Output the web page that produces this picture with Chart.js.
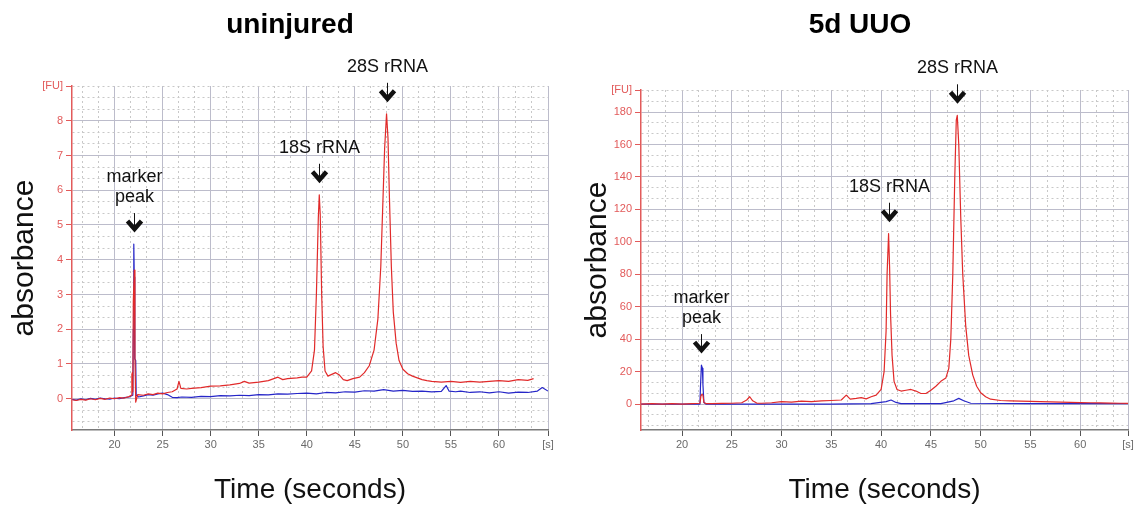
<!DOCTYPE html>
<html>
<head>
<meta charset="utf-8">
<title>RNA electropherograms</title>
<script src="https://cdn.jsdelivr.net/npm/chart.js@4.4.0/dist/chart.umd.min.js"></script>
<style>
  body { margin: 0; background: #fff; }
  .panel { position: absolute; top: 0; height: 508px; }
  #panel-1 { left: 0; width: 570px; }
  #panel-2 { left: 570px; width: 569px; }
</style>
</head>
<body>
<div class="panel" id="panel-1"><canvas id="chart-1" width="570" height="508"></canvas></div>
<div class="panel" id="panel-2"><canvas id="chart-2" width="569" height="508"></canvas></div>
<script>
// ---- uninjured: sample trace (red) and ladder/marker trace (blue), time [s] vs FU
const uninjuredRedTime = [15.6, 16.0, 16.5, 17.0, 17.5, 18.0, 18.5, 19.0, 19.5, 20.0, 20.5, 21.0, 21.5, 21.75, 21.8, 21.85, 21.9,
  21.95, 22.05, 22.12, 22.2, 22.4, 23.0, 23.5, 24.0, 24.5, 25.0, 25.5, 26.0, 26.5, 26.7, 26.9, 27.5, 28.0, 29.0, 30.0, 31.0,
  32.0, 33.0, 33.5, 34.0, 35.0, 36.0, 37.0, 37.5, 38.0, 39.0, 39.5, 40.0, 40.5, 40.8, 41.0, 41.2, 41.3, 41.4, 41.55, 41.7,
  41.9, 42.2, 42.6, 43.0, 43.4, 43.8, 44.2, 44.8, 45.5, 46.0, 46.5, 47.0, 47.4, 47.7, 47.9, 48.1, 48.3, 48.45, 48.6, 48.8,
  49.0, 49.3, 49.6, 50.0, 50.5, 51.0, 51.5, 52.0, 52.5, 53.0, 54.0, 55.0, 56.0, 57.0, 58.0, 59.0, 60.0, 61.0, 62.0, 63.0, 63.6];
const uninjuredRedFU = [-0.03, -0.05, -0.02, -0.04, 0.0, -0.03, 0.01, -0.02, 0.02, 0.0, 0.03, 0.02, 0.06, 0.10, 0.70, 0.75, 0.20,
  2.8, 3.7, 1.2, -0.1, 0.12, 0.10, 0.14, 0.12, 0.16, 0.14, 0.18, 0.20, 0.28, 0.50, 0.30, 0.28, 0.30, 0.32, 0.36, 0.37,
  0.40, 0.44, 0.50, 0.45, 0.48, 0.52, 0.62, 0.55, 0.58, 0.60, 0.62, 0.62, 0.80, 1.4, 3.0, 5.2, 5.87, 5.3, 3.0, 1.5,
  0.80, 0.65, 0.70, 0.75, 0.68, 0.55, 0.52, 0.58, 0.62, 0.75, 0.95, 1.4, 2.3, 3.8, 5.5, 7.2, 8.2, 7.5, 5.8, 3.8,
  2.5, 1.6, 1.1, 0.85, 0.72, 0.65, 0.60, 0.55, 0.52, 0.50, 0.48, 0.50, 0.47, 0.50, 0.48, 0.50, 0.52, 0.50, 0.55, 0.53, 0.58];
const uninjuredBlueTime = [15.6, 16.0, 16.5, 17.0, 17.5, 18.0, 18.5, 19.0, 19.5, 20.0, 20.5, 21.0, 21.5, 21.9, 21.95, 22.0, 22.05,
  22.1, 22.2, 22.25, 22.5, 23.0, 23.5, 24.0, 24.5, 25.0, 25.5, 26.0, 26.5, 27.0, 28.0, 29.0, 30.0, 31.0, 32.0, 33.0, 34.0,
  35.0, 36.0, 37.0, 38.0, 39.0, 40.0, 41.0, 42.0, 43.0, 44.0, 45.0, 46.0, 47.0, 48.0, 49.0, 50.0, 51.0, 52.0, 53.0, 54.0,
  54.5, 54.8, 55.5, 56.0, 57.0, 58.0, 59.0, 60.0, 61.0, 62.0, 63.0, 64.0, 64.5, 65.1];
const uninjuredBlueFU = [-0.02, -0.04, 0.0, -0.03, 0.01, -0.02, 0.02, 0.0, -0.01, 0.02, 0.0, 0.03, 0.05, 0.10, 2.0, 4.45, 3.5,
  1.15, 1.10, 0.10, 0.05, 0.08, 0.12, 0.10, 0.14, 0.16, 0.12, 0.04, 0.03, 0.05, 0.04, 0.07, 0.06, 0.09, 0.08, 0.10, 0.09,
  0.12, 0.11, 0.14, 0.13, 0.15, 0.16, 0.14, 0.18, 0.17, 0.20, 0.19, 0.23, 0.22, 0.26, 0.22, 0.24, 0.21, 0.22, 0.20, 0.21,
  0.38, 0.22, 0.20, 0.22, 0.18, 0.20, 0.17, 0.20, 0.16, 0.19, 0.18, 0.22, 0.32, 0.22];

// ---- 5d UUO
const uuoRedTime = [15.9, 17.0, 18.0, 19.0, 20.0, 21.0, 21.8, 21.9, 22.0, 22.1, 22.2, 22.4, 23.0, 24.0, 25.0, 26.0, 26.5, 26.8,
  27.1, 27.5, 28.0, 29.0, 30.0, 31.0, 32.0, 33.0, 34.0, 35.0, 36.0, 36.5, 36.9, 37.5, 38.0, 38.5, 39.0, 39.5, 40.0, 40.3,
  40.5, 40.6, 40.75, 40.85, 40.95, 41.1, 41.3, 41.6, 42.0, 42.5, 43.0, 43.5, 44.0, 44.5, 45.0, 45.5, 46.0, 46.5, 46.8,
  47.0, 47.2, 47.4, 47.55, 47.65, 47.8, 48.0, 48.2, 48.5, 48.8, 49.2, 49.6, 50.0, 50.5, 51.0, 52.0, 53.0, 54.0, 55.0,
  56.0, 57.0, 58.0, 59.0, 60.0, 61.0, 62.0, 63.0, 64.0, 64.8];
const uuoRedFU = [0, 0.3, 0, 0.2, 0, 0.3, 0.5, 5, 6, 5.5, 1, 0.3, 0.2, 0.4, 0.5, 0.8, 2.5, 4.5,
  2, 0.6, 0.5, 0.8, 1.5, 1.2, 1.8, 1.5, 2.0, 2.2, 2.5, 5.5, 3, 3.5, 4.0, 3.2, 4.5, 5.5, 9, 20,
  45, 80, 105, 85, 55, 30, 14, 9, 8, 8.5, 9, 8, 6.5, 6.5, 8.5, 11, 14, 16, 22,
  40, 80, 140, 175, 178, 160, 115, 80, 48, 30, 18, 11, 7, 4.5, 3, 2.2, 2, 1.8, 1.6,
  1.5, 1.3, 1.2, 1.0, 0.9, 0.8, 0.7, 0.6, 0.5, 0.4];
const uuoBlueTime = [15.9, 18.0, 20.0, 21.8, 21.85, 21.95, 22.05, 22.1, 22.2, 22.4, 25.0, 30.0, 35.0, 39.0, 40.5, 41.0, 41.5,
  42.0, 46.0, 47.3, 47.8, 48.3, 49.0, 55.0, 60.0, 64.8];
const uuoBlueFU = [0, 0, 0, 0, 10, 24, 22, 12, 1, 0, 0, 0, 0, 0.3, 1.5, 2.5, 1.0,
  0.3, 0.3, 2, 3.5, 2, 0.5, 0.3, 0.2, 0.2];

// ---- axes
const timeTicks = [20, 25, 30, 35, 40, 45, 50, 55, 60];
const uninjuredTicks = [0, 1, 2, 3, 4, 5, 6, 7, 8];
const uuoTicks = [0, 20, 40, 60, 80, 100, 120, 140, 160, 180];

// ---- peak labels
const uninjuredPeakLabels = [['marker', 'peak'], ['18S rRNA'], ['28S rRNA']];
const uninjuredPeakTime = [22.0, 41.3, 48.3];
const uninjuredPeakFU = [4.45, 5.87, 8.2];
const uuoPeakLabels = [['marker', 'peak'], ['18S rRNA'], ['28S rRNA']];
const uuoPeakTime = [21.95, 40.75, 47.65];
const uuoPeakFU = [24, 105, 178];

const fontFamily = '"Liberation Sans", Arial, sans-serif';
const minorDivisions = 3;
const red = '#e12a2a';
const blue = '#2626c8';
const axisRed = '#e25a5a';
const majorGrid = '#bcbccb';
const minorGrid = '#c8c8c8';

Chart.defaults.font.family = fontFamily;

function toPoints(times, values) {
    return times.map((t, i) => ({ x: t, y: values[i] }));
}

// grid ticks: labelled majors, dotted minors in between, unit label at the end
function gridTicks(major, min, max, unit) {
    const step = (major[1] - major[0]) / minorDivisions;
    const ticks = [];
    const kStart = Math.ceil((min - major[0]) / step - 1e-6);
    const kEnd = Math.floor((max - major[0]) / step + 1e-6);
    for (let k = kStart; k <= kEnd; k++) {
        const v = major[0] + k * step;
        if (max - v < step * 0.4) continue;
        const isMajor = ((k % minorDivisions) + minorDivisions) % minorDivisions === 0 && v <= major[major.length - 1];
        ticks.push({ value: v, kind: isMajor ? 'major' : 'minor', text: isMajor ? String(Math.round(v)) : '' });
    }
    ticks.push({ value: max, kind: 'end', text: unit });
    return ticks;
}

const peakArrows = {
    id: 'peakArrows',
    afterDatasetsDraw(chart, args, opts) {
        const { ctx, scales: { x, y } } = chart;
        ctx.save();
        ctx.fillStyle = '#111';
        ctx.strokeStyle = '#111';
        ctx.font = '18px ' + fontFamily;
        ctx.textAlign = 'center';
        ctx.textBaseline = 'middle';
        opts.labels.forEach((lines, i) => {
            const px = Math.round(x.getPixelForValue(opts.time[i])) + 0.5;
            const tip = y.getPixelForValue(opts.fu[i]) - 13;
            const top = tip - 18;
            ctx.lineWidth = 1;
            ctx.beginPath();
            ctx.moveTo(px, top);
            ctx.lineTo(px, tip);
            ctx.stroke();
            ctx.lineWidth = 4.5;
            ctx.lineJoin = 'miter';
            ctx.beginPath();
            ctx.moveTo(px - 7, tip - 10);
            ctx.lineTo(px, tip - 2);
            ctx.lineTo(px + 7, tip - 10);
            ctx.stroke();
            lines.slice().reverse().forEach((s, j) => {
                ctx.fillText(s, px, top - 16 - j * 20);
            });
        });
        ctx.restore();
    }
};

function createChart(canvas, cfg) {
    const xTicks = gridTicks(timeTicks, cfg.xMin, cfg.xMax, '[s]');
    const yTicks = gridTicks(cfg.yTicks, cfg.yMin, cfg.yMax, '[FU]');
    return new Chart(canvas, {
        type: 'line',
        data: {
            datasets: [{
                data: toPoints(cfg.redTime, cfg.redFU),
                borderColor: red,
                borderWidth: 1.2
            }, {
                data: toPoints(cfg.blueTime, cfg.blueFU),
                borderColor: blue,
                borderWidth: 1.2
            }]
        },
        options: {
            responsive: false,
            animation: false,
            events: [],
            layout: { padding: { left: cfg.padLeft, right: cfg.padRight, top: 0, bottom: 0 } },
            elements: {
                point: { radius: 0 },
                line: { tension: 0, borderJoinStyle: 'round', fill: false }
            },
            plugins: {
                legend: { display: false },
                tooltip: { enabled: false },
                title: {
                    display: true,
                    text: cfg.title,
                    color: '#000',
                    font: { size: 28, weight: 'bold' },
                    padding: { top: 8, bottom: cfg.top - 8 - 28 * 1.2 }
                },
                peakArrows: {
                    labels: cfg.peakLabels,
                    time: cfg.peakTime,
                    fu: cfg.peakFU
                }
            },
            scales: {
                x: {
                    type: 'linear',
                    min: cfg.xMin,
                    max: cfg.xMax,
                    afterFit: scale => { scale.height = 78; },
                    afterBuildTicks: scale => { scale.ticks = xTicks.map(t => ({ ...t })); },
                    ticks: {
                        autoSkip: false,
                        maxRotation: 0,
                        minRotation: 0,
                        padding: 2,
                        color: '#6a6a6a',
                        font: { size: 11 },
                        callback: (v, i, ticks) => ticks[i].text
                    },
                    grid: {
                        color: c => !c.tick ? majorGrid : (c.tick.kind === 'minor' ? minorGrid : majorGrid),
                        lineWidth: 1,
                        tickLength: 6,
                        tickColor: c => (c.tick && c.tick.kind === 'minor') ? 'rgba(0,0,0,0)' : '#555'
                    },
                    border: {
                        color: '#7a7a7a',
                        width: 1.5,
                        dash: c => (c.tick && c.tick.kind === 'minor') ? [2, 3] : []
                    },
                    title: {
                        display: true,
                        text: 'Time (seconds)',
                        color: '#111',
                        font: { size: 28 },
                        padding: { top: 0, bottom: 1 }
                    }
                },
                y: {
                    type: 'linear',
                    min: cfg.yMin,
                    max: cfg.yMax,
                    afterFit: scale => { scale.width = cfg.left - cfg.padLeft; },
                    afterBuildTicks: scale => { scale.ticks = yTicks.map(t => ({ ...t })); },
                    ticks: {
                        autoSkip: false,
                        padding: 3,
                        color: axisRed,
                        font: { size: 11 },
                        callback: (v, i, ticks) => ticks[i].text
                    },
                    grid: {
                        color: c => !c.tick ? majorGrid : (c.tick.kind === 'major' ? majorGrid : minorGrid),
                        lineWidth: 1,
                        tickLength: 6,
                        tickColor: c => (c.tick && c.tick.kind === 'minor') ? 'rgba(0,0,0,0)' : axisRed
                    },
                    border: {
                        color: axisRed,
                        width: 1.5,
                        dash: c => (c.tick && c.tick.kind !== 'major') ? [2, 3] : []
                    },
                    title: {
                        display: true,
                        text: 'absorbance',
                        color: '#111',
                        font: { size: 30 },
                        padding: { top: cfg.yTitleX - cfg.padLeft - 18, bottom: 0 }
                    }
                }
            }
        },
        plugins: [peakArrows]
    });
}

createChart(document.querySelector('#chart-1'), {
    title: 'uninjured',
    redTime: uninjuredRedTime, redFU: uninjuredRedFU,
    blueTime: uninjuredBlueTime, blueFU: uninjuredBlueFU,
    yTicks: uninjuredTicks,
    xMin: 15.57, xMax: 65.1, yMin: -0.9, yMax: 9,
    left: 72, padLeft: 32, top: 86, padRight: 22, yTitleX: 25,
    peakLabels: uninjuredPeakLabels, peakTime: uninjuredPeakTime, peakFU: uninjuredPeakFU
});

createChart(document.querySelector('#chart-2'), {
    title: '5d UUO',
    redTime: uuoRedTime, redFU: uuoRedFU,
    blueTime: uuoBlueTime, blueFU: uuoBlueFU,
    yTicks: uuoTicks,
    xMin: 15.88, xMax: 64.8, yMin: -16, yMax: 193.6,
    left: 71, padLeft: 22, top: 90, padRight: 11, yTitleX: 28,
    peakLabels: uuoPeakLabels, peakTime: uuoPeakTime, peakFU: uuoPeakFU
});
</script>
</body>
</html>
